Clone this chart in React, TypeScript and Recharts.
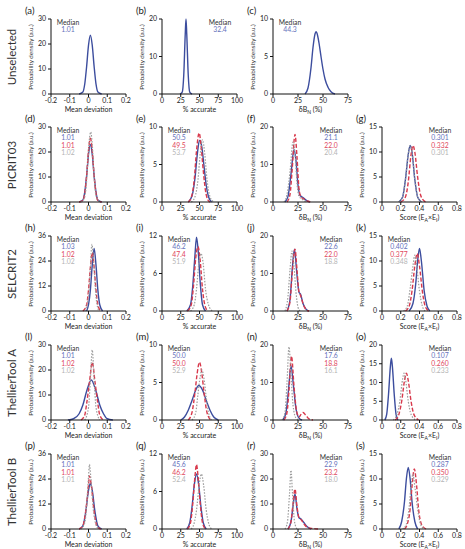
import React from "react";
import { LineChart, Line, XAxis, YAxis } from "recharts";

type Pt = [number, number];

// row / column names and axis ticks
const rowNames = ["Unselected", "PICRIT03", "SELCRIT2", "ThellierTool A", "ThellierTool B"];
const meanDevTicks = [-0.2, -0.1, 0, 0.1, 0.2];
const accTicks = [0, 25, 50, 75, 100];
const dbnTicks = [0, 25, 50, 75];
const scoreTicks = [0, 0.2, 0.4, 0.6, 0.8];

// (a)-(c) unselected
const aBlue: Pt[] = [[-0.05, 0], [-0.03, 0.8], [-0.02, 4], [-0.01, 11], [0, 19.5], [0.01, 23.5], [0.02, 19.5], [0.03, 11], [0.04, 4], [0.05, 0.8], [0.07, 0]];
const bBlue: Pt[] = [[24, 0], [27, 0.5], [29, 5], [31, 16], [32, 20], [33, 16], [35, 5], [37, 0.5], [40, 0]];
const cBlue: Pt[] = [[32, 0], [35, 0.8], [38, 3.5], [40, 6.2], [42, 8], [43, 8.3], [44, 8.1], [46, 6.8], [48, 5], [50, 3.3], [52, 2], [55, 0.9], [58, 0.3], [62, 0]];

// (d)-(g) PICRIT03
const dBlue: Pt[] = [[-0.05, 0], [-0.03, 0.8], [-0.02, 4], [-0.01, 10.5], [0, 19], [0.01, 23], [0.02, 19], [0.03, 10.5], [0.04, 4], [0.05, 0.8], [0.07, 0]];
const dRed: Pt[] = [[-0.05, 0], [-0.03, 0.6], [-0.02, 3.5], [-0.01, 10.5], [0, 20.5], [0.01, 25.5], [0.02, 20.5], [0.03, 10.5], [0.04, 3.5], [0.05, 0.6], [0.07, 0]];
const dGray: Pt[] = [[-0.04, 0], [-0.02, 2], [-0.01, 8.5], [0, 21], [0.012, 28], [0.02, 23], [0.03, 10], [0.04, 2.5], [0.06, 0]];
const eBlue: Pt[] = [[35, 0], [40, 0.8], [44, 3.2], [47, 6.3], [50, 8.2], [51, 8.2], [53, 7.4], [56, 4.8], [59, 2.2], [62, 0.7], [66, 0]];
const eRed: Pt[] = [[35, 0], [39, 0.6], [43, 3], [46, 6.8], [49.5, 9.2], [52, 7.6], [55, 4.2], [58, 1.5], [61, 0.3], [64, 0]];
const eGray: Pt[] = [[39, 0], [44, 0.7], [48, 3], [51, 6.4], [54, 8.3], [57, 6.4], [60, 3], [64, 0.7], [69, 0]];
const fBlue: Pt[] = [[12, 0], [15, 1.5], [18, 7.5], [21, 14], [23, 11], [25, 4.5], [27, 1.8], [30, 1.2], [33, 0.5], [37, 0]];
const fRed: Pt[] = [[14, 0], [17, 2], [19, 8], [22, 18], [24, 12], [26, 3.5], [28, 1.3], [31, 0.8], [35, 0.2], [38, 0]];
const fGray: Pt[] = [[11, 0], [14, 2], [17, 8], [20, 16], [22, 13], [24, 5], [26, 1.5], [29, 0.8], [33, 0]];
const gBlue: Pt[] = [[0.18, 0], [0.22, 1], [0.25, 4.5], [0.28, 9.5], [0.3, 11.3], [0.32, 10], [0.35, 4.5], [0.38, 1], [0.42, 0]];
const gRed: Pt[] = [[0.2, 0], [0.25, 1], [0.28, 4], [0.31, 9.5], [0.33, 11.3], [0.35, 10], [0.38, 5], [0.41, 1.5], [0.45, 0.2], [0.47, 0]];
const gGray: Pt[] = [[0.18, 0], [0.22, 1], [0.25, 4.5], [0.28, 9.6], [0.3, 11.2], [0.32, 10], [0.35, 4.5], [0.38, 1], [0.42, 0]];

// (h)-(k) SELCRIT2
const hBlue: Pt[] = [[-0.01, 0], [0, 3], [0.01, 10], [0.02, 22], [0.03, 30], [0.04, 22], [0.05, 10], [0.06, 3], [0.075, 0]];
const hRed: Pt[] = [[-0.03, 0], [-0.01, 3], [0, 10], [0.01, 21], [0.02, 28], [0.03, 21], [0.04, 10], [0.05, 3], [0.065, 0]];
const hGray: Pt[] = [[-0.02, 0], [0, 7], [0.01, 20], [0.018, 32], [0.03, 20], [0.04, 7], [0.055, 0]];
const iBlue: Pt[] = [[33, 0], [38, 1], [41, 4], [44, 9], [46, 11.8], [48, 10], [51, 4.5], [54, 1], [58, 0]];
const iRed: Pt[] = [[34, 0], [39, 1], [42, 4], [45, 8.5], [48, 10.3], [51, 8], [54, 3.5], [57, 1], [61, 0]];
const iGray: Pt[] = [[38, 0], [43, 1], [46, 3.5], [49, 7.5], [52, 9.2], [55, 7.5], [58, 3.5], [62, 1], [67, 0]];
const jBlue: Pt[] = [[14, 0], [17, 3], [19.5, 12], [21.5, 16.5], [23.5, 11], [26, 5], [27.5, 4.5], [30, 2], [33, 0.5], [36, 0]];
const jRed: Pt[] = [[14, 0], [17, 2.5], [19.5, 11], [22, 16.5], [24, 11], [26, 5], [27.5, 4.2], [30, 2], [33, 0.4], [36, 0]];
const jGray: Pt[] = [[12, 0], [15, 4], [17, 11], [19, 16], [21, 12], [23, 5], [25, 1], [27, 0]];
const kBlue: Pt[] = [[0.29, 0], [0.33, 1.5], [0.36, 5.5], [0.38, 10], [0.4, 12.5], [0.42, 10], [0.45, 4], [0.48, 1], [0.51, 0]];
const kRed: Pt[] = [[0.25, 0], [0.29, 1], [0.32, 4], [0.35, 9], [0.375, 11.5], [0.4, 9], [0.43, 4], [0.46, 1], [0.5, 0]];
const kGray: Pt[] = [[0.23, 0], [0.27, 1], [0.3, 4.5], [0.33, 9], [0.35, 11.2], [0.37, 9], [0.4, 4], [0.43, 1], [0.46, 0]];

// (l)-(o) ThellierTool A
const lBlue: Pt[] = [[-0.11, 0], [-0.08, 0.5], [-0.05, 2.5], [-0.03, 6], [-0.01, 11.5], [0.015, 16], [0.04, 11.5], [0.06, 6], [0.08, 2.5], [0.1, 0.5], [0.13, 0]];
const lRed: Pt[] = [[-0.04, 0], [-0.02, 2], [-0.01, 6.5], [0.005, 15], [0.02, 23], [0.035, 15], [0.05, 6.5], [0.06, 2], [0.08, 0]];
const lGray: Pt[] = [[-0.02, 0], [0, 5], [0.01, 16], [0.02, 28], [0.03, 16], [0.04, 5], [0.06, 0]];
const mBlue: Pt[] = [[25, 0], [30, 0.4], [35, 1.3], [40, 2.6], [45, 4], [49, 4.6], [54, 4], [59, 2.6], [64, 1.3], [69, 0.4], [75, 0]];
const mRed: Pt[] = [[35, 0], [40, 1], [44, 3.7], [47, 6.3], [50, 7.7], [53, 6.3], [56, 3.7], [60, 1], [65, 0]];
const mGray: Pt[] = [[40, 0], [45, 1], [48, 3.5], [51, 5.8], [53, 6.7], [56, 5.5], [59, 3], [62, 1], [66, 0]];
const nBlue: Pt[] = [[10, 0], [13, 2], [15.5, 8], [18, 14.5], [20.5, 9], [23, 3], [26, 0.5], [29, 0]];
const nRed: Pt[] = [[11, 0], [14, 2], [16, 8], [18.5, 17], [21, 9], [23.5, 2.5], [26, 0.8], [28, 1.5], [30, 2], [33, 1.2], [36, 0.3], [40, 0]];
const nGray: Pt[] = [[9, 0], [12, 2], [14, 10], [16, 19.5], [18, 12], [20, 4], [23, 0.5], [26, 0]];
const oBlue: Pt[] = [[0.03, 0], [0.05, 1.5], [0.07, 7], [0.09, 14.5], [0.1, 16.5], [0.11, 14.5], [0.13, 7], [0.15, 1.5], [0.17, 0]];
const oRed: Pt[] = [[0.14, 0], [0.18, 1.5], [0.21, 5], [0.24, 10.5], [0.26, 12.5], [0.28, 10.5], [0.31, 5], [0.34, 1.5], [0.39, 0]];
const oGray: Pt[] = [[0.12, 0], [0.16, 1.5], [0.19, 5], [0.22, 11], [0.235, 12.5], [0.25, 11], [0.28, 5], [0.31, 1.5], [0.36, 0]];

// (p)-(s) ThellierTool B
const pBlue: Pt[] = [[-0.05, 0], [-0.03, 1.5], [-0.015, 8], [0, 18.5], [0.01, 22], [0.02, 18.5], [0.035, 8], [0.05, 1.5], [0.07, 0]];
const pRed: Pt[] = [[-0.05, 0], [-0.03, 1.5], [-0.015, 8.5], [0, 21], [0.005, 25.5], [0.015, 21], [0.03, 8.5], [0.045, 1.5], [0.065, 0]];
const pGray: Pt[] = [[-0.04, 0], [-0.02, 3], [-0.01, 11], [0, 25], [0.005, 31], [0.012, 25], [0.025, 10], [0.04, 2], [0.055, 0]];
const qBlue: Pt[] = [[33, 0], [37, 1], [40, 3.5], [43, 7], [46, 8.8], [49, 7], [52, 3.5], [55, 1], [59, 0]];
const qRed: Pt[] = [[34, 0], [38, 1], [41, 4], [44, 8.5], [46, 10.3], [48, 8.5], [51, 4], [54, 1], [58, 0]];
const qGray: Pt[] = [[39, 0], [43, 1], [46, 3], [49.5, 7], [52.5, 8.8], [55.5, 7], [59, 3], [62, 1], [66, 0]];
const rBlue: Pt[] = [[15, 0], [18, 3], [20, 9], [22, 14], [24, 8], [26, 4.5], [28, 4], [31, 2.5], [34, 1], [38, 0]];
const rRed: Pt[] = [[15, 0], [18, 3], [20, 10], [22, 16], [24, 9], [26, 4.5], [28, 3.8], [31, 2], [35, 0.5], [40, 0.2], [45, 0]];
const rGray: Pt[] = [[12, 0], [14.5, 3], [16.5, 14], [18, 23.5], [19.5, 14], [21.5, 3], [24, 0]];
const sBlue: Pt[] = [[0.18, 0], [0.21, 1.5], [0.24, 5.5], [0.26, 10], [0.28, 12.3], [0.3, 10], [0.32, 5.5], [0.35, 1.5], [0.38, 0]];
const sRed: Pt[] = [[0.24, 0], [0.27, 1], [0.3, 4], [0.32, 8.5], [0.345, 12], [0.37, 8.5], [0.39, 4], [0.42, 1], [0.47, 0]];
const sGray: Pt[] = [[0.22, 0], [0.26, 1], [0.29, 4.5], [0.31, 8.5], [0.33, 11], [0.35, 8.5], [0.38, 4], [0.41, 1], [0.45, 0]];

// panel table: id, row, col, y ticks, curves (blue, red, gray), medians, median side
const panels = [
  { id: "a", row: 0, col: 0, y: [0, 10, 20, 30], c: [aBlue], med: ["1.01"], side: "l" },
  { id: "b", row: 0, col: 1, y: [0, 10, 20], c: [bBlue], med: ["32.4"], side: "r" },
  { id: "c", row: 0, col: 2, y: [0, 5, 10], c: [cBlue], med: ["44.3"], side: "l" },
  { id: "d", row: 1, col: 0, y: [0, 10, 20, 30], c: [dBlue, dRed, dGray], med: ["1.01", "1.01", "1.02"], side: "l" },
  { id: "e", row: 1, col: 1, y: [0, 5, 10], c: [eBlue, eRed, eGray], med: ["50.5", "49.5", "53.7"], side: "l" },
  { id: "f", row: 1, col: 2, y: [0, 10, 20], c: [fBlue, fRed, fGray], med: ["21.1", "22.0", "20.4"], side: "r" },
  { id: "g", row: 1, col: 3, y: [0, 5, 10, 15], c: [gBlue, gRed, gGray], med: ["0.301", "0.332", "0.301"], side: "r" },
  { id: "h", row: 2, col: 0, y: [0, 12, 24, 36], c: [hBlue, hRed, hGray], med: ["1.03", "1.02", "1.02"], side: "l" },
  { id: "i", row: 2, col: 1, y: [0, 6, 12], c: [iBlue, iRed, iGray], med: ["46.2", "47.4", "51.9"], side: "l" },
  { id: "j", row: 2, col: 2, y: [0, 10, 20], c: [jBlue, jRed, jGray], med: ["22.6", "22.0", "18.8"], side: "r" },
  { id: "k", row: 2, col: 3, y: [0, 5, 10, 15], c: [kBlue, kRed, kGray], med: ["0.402", "0.377", "0.348"], side: "l" },
  { id: "l", row: 3, col: 0, y: [0, 10, 20, 30], c: [lBlue, lRed, lGray], med: ["1.01", "1.02", "1.02"], side: "l" },
  { id: "m", row: 3, col: 1, y: [0, 5, 10], c: [mBlue, mRed, mGray], med: ["50.0", "50.0", "52.9"], side: "l" },
  { id: "n", row: 3, col: 2, y: [0, 10, 20], c: [nBlue, nRed, nGray], med: ["17.6", "18.8", "16.1"], side: "r" },
  { id: "o", row: 3, col: 3, y: [0, 5, 10, 15, 20], c: [oBlue, oRed, oGray], med: ["0.107", "0.260", "0.233"], side: "r" },
  { id: "p", row: 4, col: 0, y: [0, 12, 24, 36], c: [pBlue, pRed, pGray], med: ["1.01", "1.01", "1.01"], side: "l" },
  { id: "q", row: 4, col: 1, y: [0, 6, 12], c: [qBlue, qRed, qGray], med: ["45.6", "46.2", "52.4"], side: "l" },
  { id: "r", row: 4, col: 2, y: [0, 10, 20, 30], c: [rBlue, rRed, rGray], med: ["22.9", "23.2", "18.0"], side: "r" },
  { id: "s", row: 4, col: 3, y: [0, 5, 10, 15], c: [sBlue, sRed, sGray], med: ["0.287", "0.350", "0.329"], side: "r" },
];

// layout
const FONT = "Lato, 'DejaVu Sans', sans-serif";
const colLeft = [51, 162, 273, 382];
const rowTop = [19, 127, 236, 345, 454];
const PW = 75, PH = 75, ML = 40, MR = 10, MT = 10, MB = 26;

const lineColors = ["#3c4d9e", "#d8394c", "#9c9c9c"];
const textColors = ["#6471bb", "#e0465c", "#b4b4b4"];
const dashes = [undefined, "4 2", "1.5 1.5"];

const fmtMean = (v: number) => (v === 0 ? "0" : v.toFixed(1));
const fmtScore = (v: number) => (v === 0 ? "0" : v.toFixed(1));

const xCols = [
  { ticks: meanDevTicks, fmt: fmtMean, title: <>Mean deviation</> },
  { ticks: accTicks, fmt: (v: number) => String(v), title: <>% accurate</> },
  { ticks: dbnTicks, fmt: (v: number) => String(v), title: <>δB<sub style={{ fontSize: 5 }}>N</sub> (%)</> },
  { ticks: scoreTicks, fmt: fmtScore, title: <>Score (E<sub style={{ fontSize: 5 }}>A</sub>×E<sub style={{ fontSize: 5 }}>I</sub>)</> },
];

const toData = (pts: Pt[]) => pts.map(([x, y]) => ({ x, y }));

function Panel({ p }: { p: (typeof panels)[number] }) {
  const xc = xCols[p.col];
  const left = colLeft[p.col];
  const top = rowTop[p.row];
  const tick = { fontSize: 7, fill: "#222", fontFamily: FONT };
  const medX = p.side === "l" ? left + 17 : left + PW - 17;
  return (
    <>
      <div style={{ position: "absolute", left: left - ML, top: top - MT }}>
        <LineChart width={ML + PW + MR} height={MT + PH + MB} margin={{ top: MT, right: MR, left: 0, bottom: 0 }}>
          <XAxis
            dataKey="x"
            type="number"
            domain={[xc.ticks[0], xc.ticks[xc.ticks.length - 1]]}
            ticks={xc.ticks}
            tickFormatter={xc.fmt}
            allowDataOverflow
            height={MB}
            tickSize={3}
            tickMargin={1}
            tick={tick}
            stroke="#111"
            interval={0}
          />
          <YAxis
            type="number"
            domain={[0, p.y[p.y.length - 1]]}
            ticks={p.y}
            width={ML}
            tickSize={3}
            tickMargin={2}
            tick={tick}
            stroke="#111"
            interval={0}
          />
          {p.c.map((pts, i) => (
            <Line
              key={i}
              data={toData(pts)}
              dataKey="y"
              type="monotone"
              stroke={lineColors[i]}
              strokeWidth={i === 2 ? 1.2 : 1.4}
              strokeDasharray={dashes[i]}
              dot={false}
              activeDot={false}
              isAnimationActive={false}
            />
          ))}
        </LineChart>
      </div>
      <div style={{ position: "absolute", left: left - 26, top: top - 14, fontSize: 9.5, color: "#222" }}>({p.id})</div>
      <div
        style={{
          position: "absolute",
          left: left - 20 - 50,
          top: top + PH / 2 - 5,
          width: 100,
          height: 10,
          lineHeight: "10px",
          textAlign: "center",
          fontSize: 6.3,
          color: "#333",
          transform: "rotate(-90deg)",
          whiteSpace: "nowrap",
        }}
      >
        Probability density (a.u.)
      </div>
      <div
        style={{
          position: "absolute",
          left: left + PW / 2 - 50,
          top: top + PH + 11,
          width: 100,
          textAlign: "center",
          fontSize: 7,
          lineHeight: "9px",
          color: "#222",
          whiteSpace: "nowrap",
        }}
      >
        {xc.title}
      </div>
      <div
        style={{
          position: "absolute",
          left: medX - 20,
          top: top,
          width: 40,
          textAlign: "center",
          fontSize: 6.8,
          lineHeight: "7.3px",
        }}
      >
        <div style={{ color: "#333" }}>Median</div>
        {p.med.map((m, i) => (
          <div key={i} style={{ color: textColors[i] }}>
            {m}
          </div>
        ))}
      </div>
    </>
  );
}

export default function App() {
  return (
    <div
      style={{
        position: "absolute",
        left: 0,
        top: 0,
        width: 465,
        height: 549,
        background: "#fff",
        fontFamily: FONT,
      }}
    >
      {rowNames.map((name, r) => (
        <div
          key={name}
          style={{
            position: "absolute",
            left: 12 - 50,
            top: rowTop[r] + PH / 2 - 7,
            width: 100,
            height: 14,
            lineHeight: "14px",
            textAlign: "center",
            fontSize: 11.5,
            color: "#333",
            transform: "rotate(-90deg)",
            whiteSpace: "nowrap",
          }}
        >
          {name}
        </div>
      ))}
      {panels.map((p) => (
        <Panel key={p.id} p={p} />
      ))}
    </div>
  );
}
